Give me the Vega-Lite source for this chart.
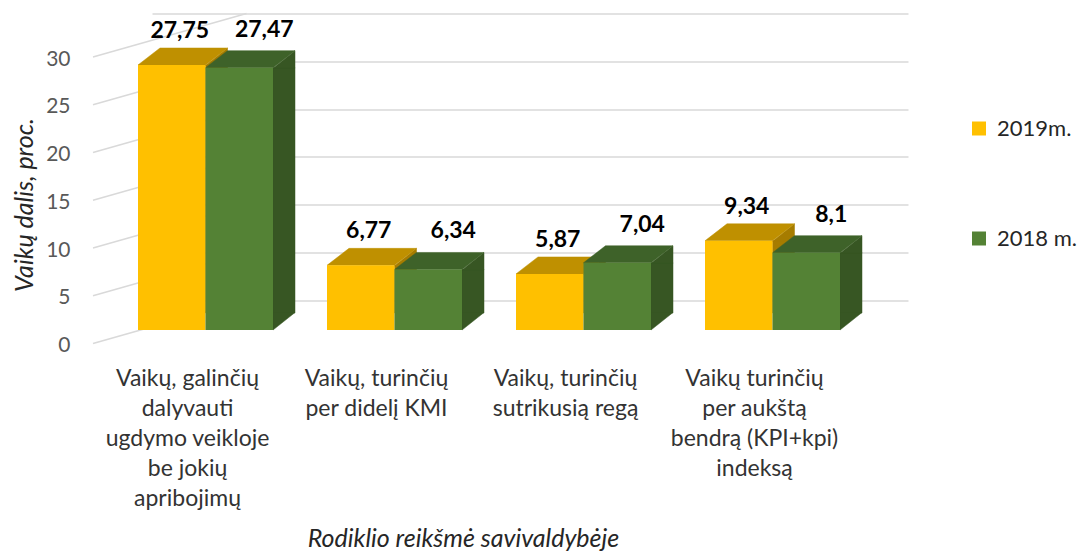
{
  "$schema": "https://vega.github.io/schema/vega-lite/v6.json",
  "autosize": {"type": "none"},
  "width": 756,
  "height": 286.5,
  "padding": {"left": 152, "top": 13.5, "right": 179, "bottom": 251},
  "background": "white",
  "config": {
    "view": {"stroke": null},
    "font": "Lato",
    "locale": {"number": {"decimal": ",", "thousands": " ", "grouping": [3], "currency": ["", " €"]}}
  },
  "datasets": {
    "bars": [
      {"rodiklis": "Vaikų, galinčių\ndalyvauti\nugdymo veikloje\nbe jokių\napribojimų", "metai": "2019m.", "reiksme": 27.75},
      {"rodiklis": "Vaikų, galinčių\ndalyvauti\nugdymo veikloje\nbe jokių\napribojimų", "metai": "2018 m.", "reiksme": 27.47},
      {"rodiklis": "Vaikų, turinčių\nper didelį KMI", "metai": "2019m.", "reiksme": 6.77},
      {"rodiklis": "Vaikų, turinčių\nper didelį KMI", "metai": "2018 m.", "reiksme": 6.34},
      {"rodiklis": "Vaikų, turinčių\nsutrikusią regą", "metai": "2019m.", "reiksme": 5.87},
      {"rodiklis": "Vaikų, turinčių\nsutrikusią regą", "metai": "2018 m.", "reiksme": 7.04},
      {"rodiklis": "Vaikų turinčių\nper aukštą\nbendrą (KPI+kpi)\nindeksą", "metai": "2019m.", "reiksme": 9.34},
      {"rodiklis": "Vaikų turinčių\nper aukštą\nbendrą (KPI+kpi)\nindeksą", "metai": "2018 m.", "reiksme": 8.1}
    ],
    "ticks": [{"t": 0}, {"t": 5}, {"t": 10}, {"t": 15}, {"t": 20}, {"t": 25}, {"t": 30}]
  },
  "data": {"name": "bars"},
  "encoding": {
    "x": {
      "field": "rodiklis", "type": "nominal", "sort": null,
      "scale": {"paddingInner": 0, "paddingOuter": 0},
      "axis": {
        "title": "Rodiklio reikšmė savivaldybėje",
        "titleFont": "Lato", "titleFontSize": 25, "titleFontStyle": "italic", "titleFontWeight": "normal",
        "titleColor": "#262626", "titleX": 311, "titleY": 238, "titleBaseline": "middle", "titleAlign": "center", "titleAnchor": null,
        "labelExpr": "split(datum.label, '\\n')",
        "labelAngle": 0, "labelFontSize": 23, "labelLineHeight": 30, "labelColor": "#333333",
        "labelBaseline": "top", "labelPadding": 67, "labelOffset": -59, "labelLimit": 400,
        "domain": false, "ticks": false, "grid": false
      }
    },
    "y": {
      "field": "reiksme", "type": "quantitative",
      "scale": {"domain": [0, 30], "nice": false, "zero": true},
      "axis": {
        "title": "Vaikų dalis, proc.",
        "titleFont": "Lato", "titleFontSize": 25, "titleFontStyle": "italic", "titleFontWeight": "normal",
        "titleColor": "#262626", "titleX": -128, "titleY": 191, "titleAngle": -90, "titleBaseline": "middle", "titleAlign": "center", "titleAnchor": null,
        "values": [0, 5, 10, 15, 20, 25, 30],
        "labelFontSize": 21, "labelColor": "#595959", "labelPadding": 82, "labelOffset": 45.5,
        "domain": false, "ticks": false,
        "grid": true, "gridColor": "#D9D9D9", "gridWidth": 1.5
      }
    }
  },
  "layer": [
    {
      "data": {"name": "ticks"},
      "mark": {"type": "rule", "color": "#D9D9D9", "strokeWidth": 1.5, "xOffset": -59, "x2Offset": 0, "yOffset": 43.5, "y2Offset": 0},
      "encoding": {
        "x": {"datum": "Vaikų, galinčių\ndalyvauti\nugdymo veikloje\nbe jokių\napribojimų", "bandPosition": 0},
        "x2": {"datum": "Vaikų, galinčių\ndalyvauti\nugdymo veikloje\nbe jokių\napribojimų"},
        "y": {"field": "t", "type": "quantitative"},
        "y2": {"field": "t"}
      }
    },
    {
      "transform": [{"filter": "datum.metai === '2019m.'"}],
      "mark": {"type": "bar", "color": "#A67C00", "stroke": "#A67C00", "strokeWidth": 0.5, "width": 22, "xOffset": -30, "x2Offset": -30, "yOffset": 30, "y2Offset": 13},
      "encoding": {"y2": {"datum": 0}}
    },
    {
      "transform": [{"filter": "datum.metai === '2018 m.'"}],
      "mark": {"type": "bar", "color": "#375623", "stroke": "#375623", "strokeWidth": 0.5, "width": 22, "xOffset": 37.5, "x2Offset": 37.5, "yOffset": 30, "y2Offset": 13},
      "encoding": {"y2": {"datum": 0}}
    },
    {
      "transform": [{"filter": "datum.metai === '2019m.'"}],
      "mark": {"type": "point", "filled": true, "opacity": 1, "color": "#A67C00", "stroke": "#A67C00", "strokeWidth": 0.5, "size": 4, "shape": "M33.75,0.5 L55.75,-17 L55.75,0.5 Z", "xOffset": -74.75, "yOffset": 30}
    },
    {
      "transform": [{"filter": "datum.metai === '2018 m.'"}],
      "mark": {"type": "point", "filled": true, "opacity": 1, "color": "#375623", "stroke": "#375623", "strokeWidth": 0.5, "size": 4, "shape": "M33.75,0.5 L55.75,-17 L55.75,0.5 Z", "xOffset": -7.25, "yOffset": 30}
    },
    {
      "transform": [{"filter": "datum.metai === '2018 m.'"}],
      "mark": {"type": "point", "filled": true, "opacity": 1, "color": "#375623", "stroke": "#375623", "strokeWidth": 0.5, "size": 4, "shape": "M33.75,0 L33.75,-17.5 L55.75,-17.5 Z", "xOffset": -7.25, "yOffset": 30},
      "encoding": {"y": {"datum": 0}}
    },
    {
      "transform": [{"filter": "datum.metai === '2019m.'"}],
      "mark": {"type": "point", "filled": true, "opacity": 1, "color": "#BF9000", "stroke": "#BF9000", "strokeWidth": 0.5, "size": 4, "shape": "M-33.75,0 L33.75,0 L55.75,-17 L-11.75,-17 Z", "xOffset": -74.75, "yOffset": 30}
    },
    {
      "transform": [{"filter": "datum.metai === '2018 m.'"}],
      "mark": {"type": "point", "filled": true, "opacity": 1, "color": "#3E6229", "stroke": "#3E6229", "strokeWidth": 0.5, "size": 4, "shape": "M-33.75,0 L33.75,0 L55.75,-17 L-11.75,-17 Z", "xOffset": -7.25, "yOffset": 30}
    },
    {
      "transform": [{"filter": "datum.metai === '2019m.'"}],
      "mark": {"type": "bar", "width": 67.5, "xOffset": -74.75, "x2Offset": -74.75, "yOffset": 30, "y2Offset": 30},
      "encoding": {
        "y2": {"datum": 0},
        "color": {
          "field": "metai", "type": "nominal",
          "scale": {"domain": ["2019m.", "2018 m."], "range": ["#FFC000", "#548235"]},
          "legend": {
            "title": null, "orient": "none", "legendX": 816, "legendY": 104,
            "symbolType": "square", "symbolSize": 196, "symbolStrokeWidth": 0,
            "labelFontSize": 22, "labelColor": "#262626", "labelOffset": 7,
            "rowPadding": 88, "padding": 0
          }
        }
      }
    },
    {
      "transform": [{"filter": "datum.metai === '2018 m.'"}],
      "mark": {"type": "bar", "width": 67.5, "xOffset": -7.25, "x2Offset": -7.25, "yOffset": 30, "y2Offset": 30},
      "encoding": {
        "y2": {"datum": 0},
        "color": {"field": "metai", "type": "nominal"}
      }
    },
    {
      "transform": [{"filter": "datum.metai === '2019m.'"}],
      "mark": {"type": "text", "fontSize": 23, "fontWeight": "bold", "color": "#000000", "align": "center", "baseline": "middle", "xOffset": -66.75, "yOffset": -4},
      "encoding": {"text": {"field": "reiksme", "type": "quantitative", "format": ".4~g"}}
    },
    {
      "transform": [{"filter": "datum.metai === '2018 m.'"}],
      "mark": {"type": "text", "fontSize": 23, "fontWeight": "bold", "color": "#000000", "align": "center", "baseline": "middle", "xOffset": 17.75, "yOffset": -8},
      "encoding": {"text": {"field": "reiksme", "type": "quantitative", "format": ".4~g"}}
    }
  ]
}
